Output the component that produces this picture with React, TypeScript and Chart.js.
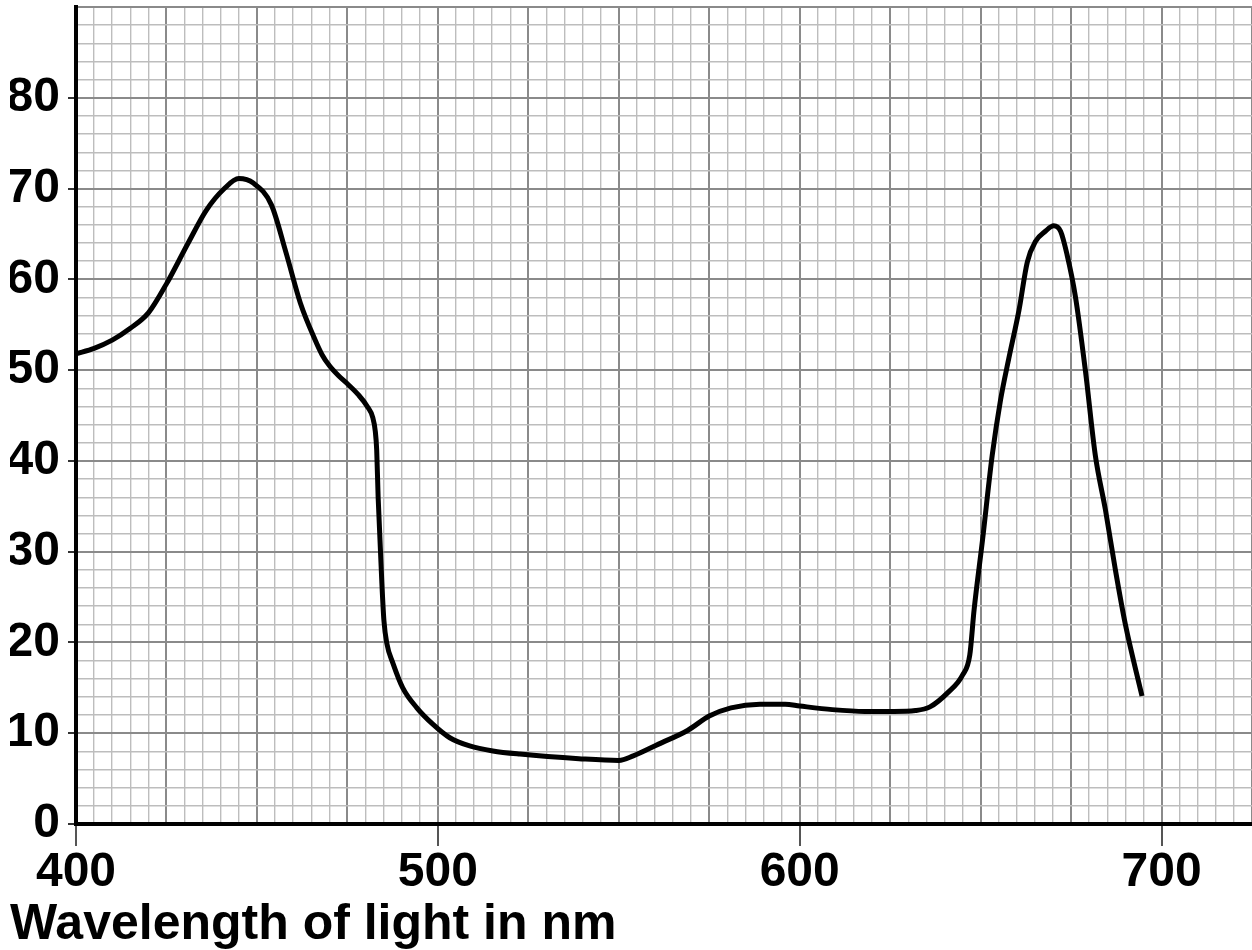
import React, { useEffect, useRef } from "react";
import { Chart, registerables } from "chart.js";

Chart.register(...registerables);

const wavelengths = [400, 405, 410, 415, 420, 425, 431, 436, 441, 445, 449, 454, 458, 462, 466, 468, 470, 472.5, 475, 478, 480.5, 482, 482.7, 483.1, 483.5, 484.5, 485.1, 485.9, 487.6, 490.3, 494.2, 498.6, 503.3, 508.8, 515.2, 522.7, 539, 550, 554, 561, 569, 575, 581, 589, 596, 600, 609, 618, 626, 632, 636, 641, 645, 647, 648.2, 650.5, 653.2, 655.5, 657.8, 660.6, 662.9, 665.2, 667.9, 670.2, 672.1, 673.9, 676.2, 679, 681.7, 684.5, 687.2, 690, 694.6];
const absorption = [51.8, 52.4, 53.3, 54.6, 56.3, 59.5, 64.0, 67.6, 70.0, 71.1, 70.6, 68.2, 63.0, 57.4, 53.4, 51.7, 50.5, 49.4, 48.5, 47.3, 46.0, 44.8, 43.3, 41.2, 36, 26.8, 22.4, 19.9, 17.7, 15.0, 12.8, 11.0, 9.5, 8.6, 8.05, 7.7, 7.2, 7.0, 7.5, 8.8, 10.3, 11.9, 12.8, 13.2, 13.2, 13.0, 12.6, 12.4, 12.4, 12.5, 12.9, 14.5, 16.4, 18.6, 23.6, 31.2, 40.6, 46.7, 51.3, 56.6, 61.9, 64.2, 65.3, 65.9, 65.3, 62.7, 58.1, 49.8, 40.6, 34.6, 28.1, 22.0, 14.1];
const xLabelValues = [400, 500, 600, 700];
const yLabelValues = [0, 10, 20, 30, 40, 50, 60, 70, 80];
const xTitle = "Wavelength of light in nm";

const FONT = "'Liberation Sans', Arial, sans-serif";
const MAJOR = "#8a8a8a";
const MINOR = "#bdbdbd";

export default function App() {
  const ref = useRef<HTMLCanvasElement | null>(null);
  useEffect(() => {
    document.body.style.margin = "0";
    const canvas = ref.current!;
    const chart = new Chart(canvas, {
      type: "line",
      data: {
        datasets: [
          {
            data: wavelengths.map((x, i) => ({ x, y: absorption[i] })),
            borderColor: "#000",
            borderWidth: 5,
            pointRadius: 0,
            cubicInterpolationMode: "monotone",
            fill: false,
          },
        ],
      },
      options: {
        animation: false,
        responsive: false,
        maintainAspectRatio: false,
        layout: { padding: { top: 7, left: 10, right: 0, bottom: 0 } },
        plugins: {
          legend: { display: false },
          tooltip: { enabled: false },
          title: {
            display: true,
            text: xTitle,
            position: "bottom",
            align: "start",
            color: "#000",
            font: { family: FONT, size: 50, weight: "bold", lineHeight: 1 },
            padding: { top: 0, bottom: 0 },
          },
        },
        scales: {
          x: {
            type: "linear",
            min: 400,
            max: 725,
            afterFit: (s: any) => {
              s.height = 76;
              s.paddingLeft = 0;
              s.paddingRight = 0;
            },
            ticks: {
              stepSize: 5,
              autoSkip: false,
              maxRotation: 0,
              padding: -2,
              color: "#000",
              font: { family: FONT, size: 48, weight: "bold" },
              callback: (v: any) => (xLabelValues.includes(Number(v)) ? String(v) : ""),
            },
            grid: {
              color: (c: any) => (c.tick && c.tick.value % 25 === 0 ? MAJOR : MINOR),
              lineWidth: (c: any) => (c.tick && c.tick.value % 25 === 0 ? 2 : 1.4),
              tickLength: 22,
              tickWidth: 2,
              tickColor: (c: any) => (c.tick && xLabelValues.includes(c.tick.value) ? "#555" : "rgba(0,0,0,0)"),
            },
            border: { color: "#000", width: 4 },
          },
          y: {
            type: "linear",
            min: 0,
            max: 90,
            afterFit: (s: any) => {
              s.width = 66;
              s.paddingTop = 0;
              s.paddingBottom = 0;
            },
            ticks: {
              stepSize: 2,
              autoSkip: false,
              padding: 8,
              color: "#000",
              font: { family: FONT, size: 48, weight: "bold" },
              callback: (v: any) => (yLabelValues.includes(Number(v)) ? String(v) : ""),
            },
            grid: {
              color: (c: any) => (c.tick && c.tick.value % 10 === 0 ? MAJOR : MINOR),
              lineWidth: (c: any) => (c.tick && c.tick.value % 10 === 0 ? 2 : 1.4),
              tickLength: 8,
              tickWidth: 2,
              tickColor: (c: any) => (c.tick && yLabelValues.includes(c.tick.value) ? "#333" : "rgba(0,0,0,0)"),
            },
            border: { color: "#000", width: 4 },
          },
        },
      },
    } as any);
    return () => chart.destroy();
  }, []);
  return (
    <div style={{ position: "relative", width: 1252, height: 950, background: "#fff" }}>
      <canvas ref={ref} width={1252} height={950} style={{ display: "block", width: 1252, height: 950 }} />
    </div>
  );
}
